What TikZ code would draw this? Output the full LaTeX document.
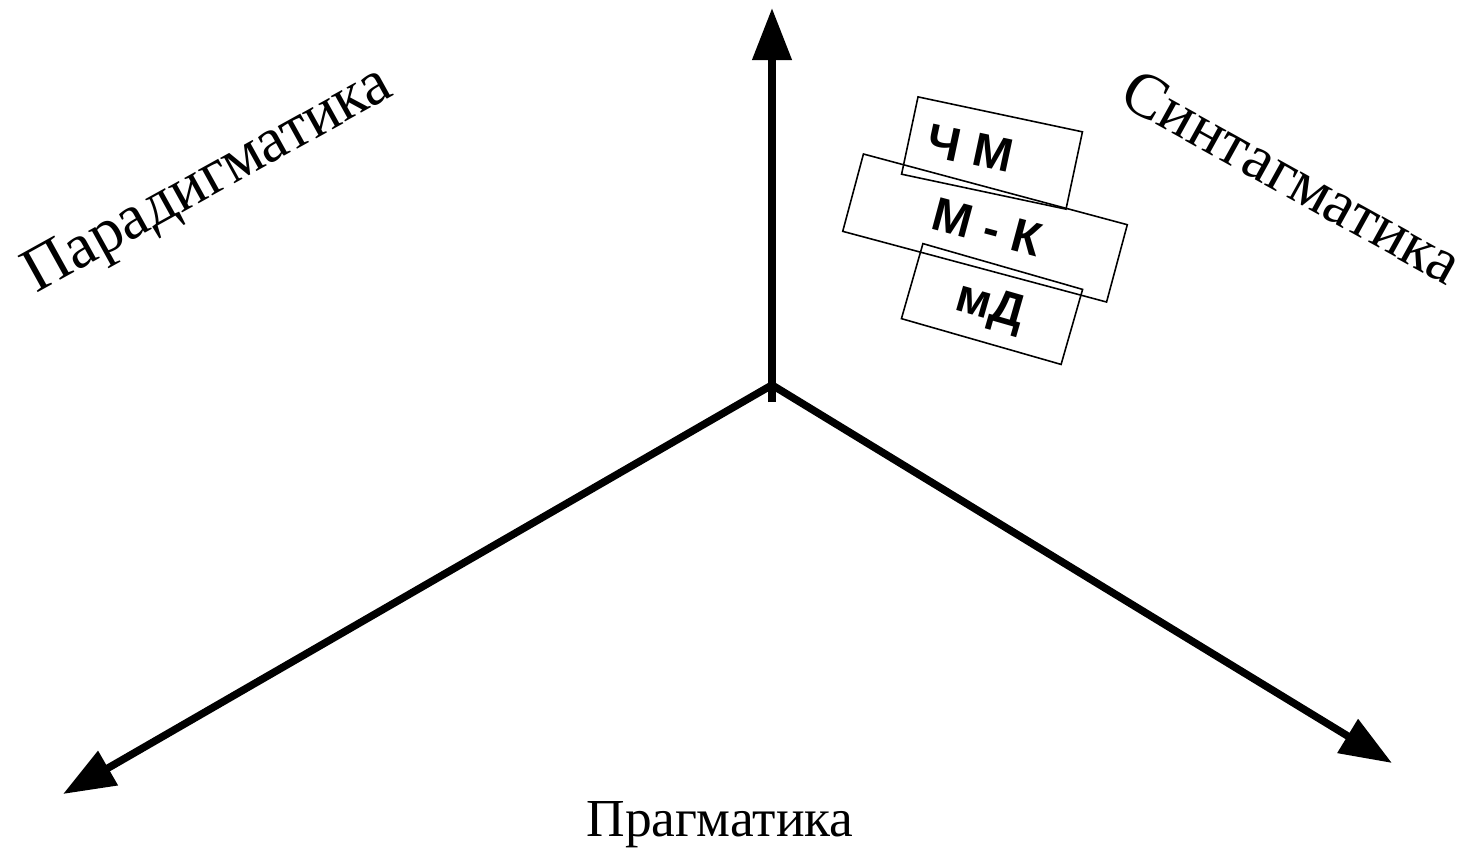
\documentclass[tikz,border=0pt]{standalone}
\usepackage{fontspec}
\setmainfont{Liberation Serif}
\setsansfont{Liberation Sans}
\usetikzlibrary{arrows.meta}
\begin{document}
\begin{tikzpicture}
		[x=0.01cm, y=-0.01cm,
		axis/.style={line width=0.075cm, -{Triangle[length=0.52cm, width=0.38cm]}},
		axislabel/.style={font=\fontsize{18}{20}\selectfont, inner sep=0pt, anchor=base west},
		card/.style={
			rectangle,
			draw,
			line width=0.45pt,
			inner sep=0pt
		},
		cardtext/.style={font=\sffamily\bfseries\fontsize{13.5}{15}\selectfont, inner sep=0pt}]
		\useasboundingbox (0,0) rectangle (1464,850);
		% axes
		\coordinate (o) at (772,385);
		\coordinate (stub) at (772,402);
		\coordinate (top) at (772,8);
		\coordinate (left) at (63,794);
		\coordinate (right) at (1392,763);
		\draw[axis] (stub) -- (top);
		\draw[axis, {Triangle[length=0.52cm, width=0.38cm]}-{Triangle[length=0.52cm, width=0.38cm]}, miter limit=20] (left) -- (o) -- (right);
		% labels
		\node[axislabel, rotate=29] (parad) at (36,294) {Парадигматика};
		\node[axislabel, rotate=-29] (sintag) at (1117,103) {Синтагматика};
		\node[axislabel, font=\fontsize{15.2}{17}\selectfont, anchor=base] (pragm) at (720,836) {Прагматика};
		% cards
		\node[card, minimum width=1.68cm, minimum height=0.79cm, rotate=-12] (chm) at (992,153) {};
		\node[card, minimum width=2.73cm, minimum height=0.80cm, rotate=-15] (mk) at (985,228) {};
		\node[card, minimum width=1.66cm, minimum height=0.78cm, rotate=-16] (md) at (992,304) {};
		\node[cardtext, rotate=-12] (chmtext) at (970,148) {Ч М};
		\node[cardtext, rotate=-15] (mktext) at (987,227) {М - К};
		\node[cardtext, rotate=-16] (mdtext) at (990,308) {мД};
\end{tikzpicture}
\end{document}
